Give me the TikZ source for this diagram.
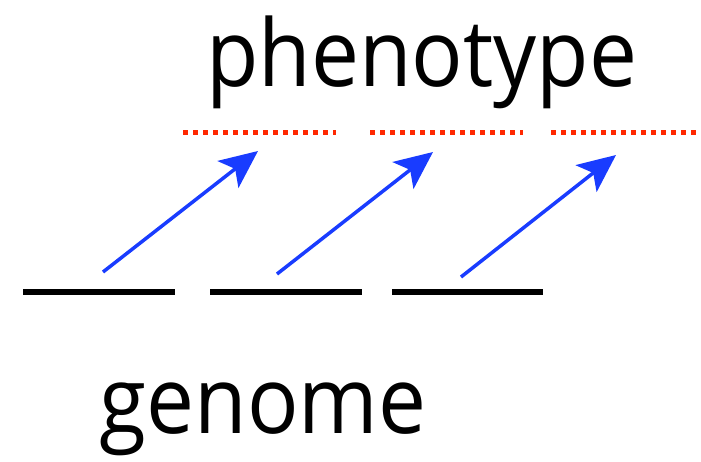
\documentclass[tikz,border=0pt]{standalone}
\usepackage{fontspec}
\setmainfont{Open Sans}
\usetikzlibrary{arrows.meta}

\begin{document}
\begin{tikzpicture}[x=1pt, y=-1pt,
        word/.style={inner sep=0pt, anchor=base, xscale=0.92, font=\fontsize{93}{93}\selectfont},
        gene/.style={line width=5.5pt, black},
        trait/.style={line width=5pt, color={rgb,255:red,255;green,40;blue,0}, dash pattern=on 5pt off 5pt},
        effect/.style={line width=3.5pt, color={rgb,255:red,25;green,60;blue,255}, arrows={-Stealth[length=38pt, width=34pt, inset=9pt]}}]
    \useasboundingbox (0,0) rectangle (701,461);
    \node[word] (pheno) at (421.5,86) {phenotype};
    \node[word] (geno) at (263,433) {genome};
    % genome segments
    \draw[gene] (23,292) -- (175,292);
    \draw[gene] (210,292) -- (362,292);
    \draw[gene] (392,292) -- (543,292);
    % phenotype segments
    \draw[trait] (183,132) -- (336,132);
    \draw[trait] (370,132) -- (523,132);
    \draw[trait] (551,132) -- (704,132);
    % arrows
    \coordinate (g1) at (103,272);
    \coordinate (g2) at (277,274);
    \coordinate (g3) at (461,277);
    \coordinate (p1) at (258,151);
    \coordinate (p2) at (433,152);
    \coordinate (p3) at (616,155);
    \draw[effect] (g1) -- (p1);
    \draw[effect] (g2) -- (p2);
    \draw[effect] (g3) -- (p3);
\end{tikzpicture}
\end{document}
